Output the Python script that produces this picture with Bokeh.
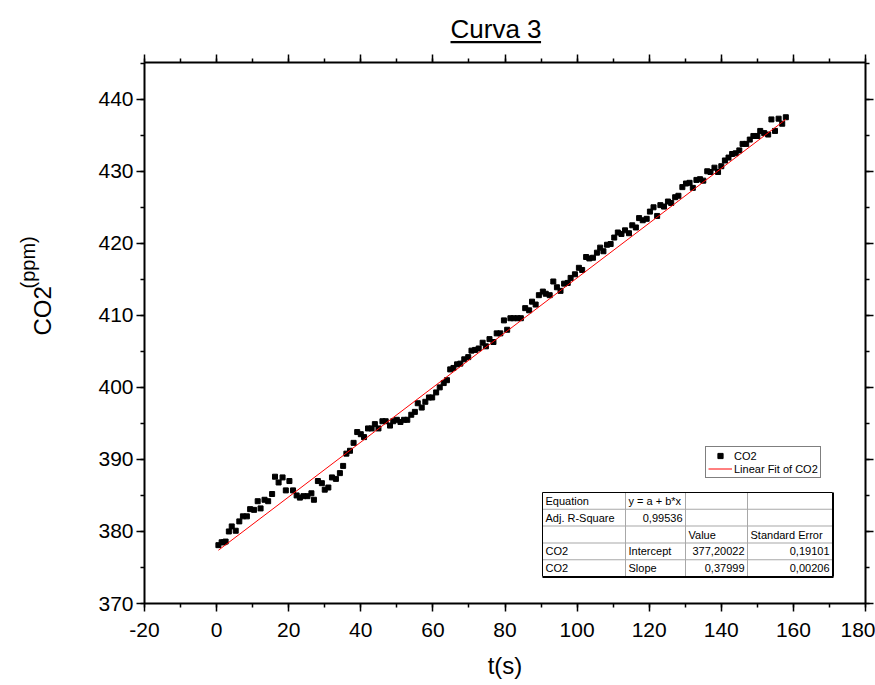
import math
from bokeh.plotting import figure
from bokeh.models import (Range1d, LinearAxis, SingleIntervalTicker, Label, BoxAnnotation,
                          Legend, LegendItem, CustomJSTickFormatter, Title)
from bokeh.embed import file_html
from bokeh.resources import INLINE

# ---------------- data ----------------
t_s = [0.5, 1.4, 2.0, 2.5, 3.4, 4.2, 5.3, 6.3, 7.3, 8.4,
       9.3, 10.4, 11.4, 12.2, 13.3, 14.3, 15.4, 16.2, 17.2, 18.3,
       19.2, 20.2, 21.2, 22.2, 23.1, 24.1, 25.2, 26.3, 27.0, 28.1,
       29.2, 30.0, 31.0, 32.0, 33.1, 34.2, 35.1, 36.0, 37.0, 38.0,
       39.0, 40.0, 40.9, 42.0, 43.0, 43.9, 44.9, 46.0, 46.9, 48.1,
       49.0, 50.0, 51.0, 52.0, 52.9, 54.0, 55.0, 55.8, 56.9, 57.9,
       58.9, 59.8, 60.9, 61.9, 63.0, 63.9, 64.8, 65.7, 66.7, 67.6,
       68.7, 69.8, 70.7, 71.7, 72.7, 73.8, 74.7, 75.7, 76.8, 77.7,
       78.7, 79.7, 80.6, 81.5, 82.4, 83.5, 84.4, 85.6, 86.7, 87.5,
       88.5, 89.4, 90.5, 91.3, 92.4, 93.4, 94.4, 95.4, 96.4, 97.4,
       98.2, 99.4, 100.5, 101.4, 102.5, 103.4, 104.4, 105.5, 106.4, 107.3,
       108.3, 109.3, 110.3, 111.3, 112.3, 113.3, 114.4, 115.3, 116.3, 117.2,
       118.2, 119.3, 120.2, 121.2, 122.2, 123.1, 124.1, 125.2, 126.1, 127.2,
       128.1, 129.2, 130.2, 131.2, 132.1, 133.1, 134.1, 135.0, 136.1, 137.0,
       138.1, 139.1, 140.0, 141.0, 142.0, 143.0, 144.0, 145.0, 145.9, 146.9,
       147.9, 148.9, 150.0, 150.8, 151.9, 153.0, 153.9, 154.9, 155.9, 156.9,
       157.9]

co2_ppm = [378.1, 378.5, 378.5, 378.6, 380.0, 380.7, 380.1, 381.4, 382.1, 382.1,
           383.1, 383.0, 384.2, 383.2, 384.4, 384.2, 385.2, 387.6, 386.8, 387.5,
           385.7, 387.0, 385.7, 385.0, 384.7, 384.9, 384.9, 385.3, 384.4, 387.0,
           386.7, 385.8, 386.1, 387.5, 387.3, 388.1, 389.1, 390.8, 391.2, 392.3,
           393.8, 393.5, 393.1, 394.3, 394.3, 394.9, 394.3, 395.3, 395.3, 394.7,
           395.3, 395.5, 395.2, 395.5, 395.5, 396.2, 396.6, 397.8, 397.2, 398.0,
           398.6, 398.6, 399.3, 400.0, 400.6, 401.0, 402.5, 402.7, 403.2, 403.3,
           403.9, 404.2, 405.1, 405.2, 405.4, 406.2, 405.7, 406.7, 406.3, 407.5,
           407.5, 409.3, 408.0, 409.6, 409.6, 409.6, 409.6, 411.0, 410.7, 411.9,
           411.5, 412.8, 413.3, 413.0, 412.8, 414.7, 413.9, 413.4, 414.4, 414.5,
           415.2, 415.7, 416.6, 416.3, 418.1, 417.9, 418.0, 418.7, 419.4, 418.9,
           419.8, 419.9, 420.8, 421.5, 421.3, 421.8, 421.4, 422.5, 422.2, 423.5,
           423.2, 423.4, 424.4, 425.0, 423.8, 425.3, 425.1, 425.8, 425.6, 426.4,
           426.6, 427.8, 428.3, 428.4, 427.7, 428.8, 428.9, 428.7, 430.0, 429.9,
           430.5, 429.9, 430.7, 431.5, 431.9, 432.4, 432.5, 432.9, 433.8, 433.8,
           434.4, 434.9, 434.9, 435.6, 435.3, 435.1, 437.2, 435.6, 437.3, 436.6,
           437.5]

fit_intercept = 377.20022
fit_slope = 0.37999

series_names = ["CO2", "Linear Fit of CO2"]

table_col1 = ["Equation", "Adj. R-Square", "", "CO2", "CO2"]
table_col2 = ["y = a + b*x", "0,99536", "", "Intercept", "Slope"]
table_col3 = ["", "", "Value", "377,20022", "0,37999"]
table_col4 = ["", "", "Standard Error", "0,19101", "0,00206"]
table_align = [["left", "left", "left", "left"],
               ["left", "right", "left", "left"],
               ["left", "left", "left", "left"],
               ["left", "left", "right", "right"],
               ["left", "left", "right", "right"]]

x_tick_labels = {-20: "-20"}
title_text = "Curva 3"
x_label = "t(s)"
y_label_main = "CO2"
y_label_unit = "(ppm)"

FONT = "Liberation Sans"

# ---------------- figure ----------------
p = figure(width=875, height=685, output_backend="svg", toolbar_location=None,
           x_range=Range1d(-20, 180), y_range=Range1d(370, 445.1),
           min_border_left=144, min_border_right=10, min_border_top=62, min_border_bottom=82,
           background_fill_color="white", border_fill_color="white")
p.grid.visible = False
p.outline_line_color = None


def style_axis(ax, show_labels):
    ax.axis_line_width = 2
    ax.axis_line_color = "black"
    ax.major_tick_out = 8
    ax.major_tick_in = 0
    ax.minor_tick_out = 4
    ax.minor_tick_in = 0
    ax.major_tick_line_width = 1.5
    ax.minor_tick_line_width = 1.5
    ax.major_tick_line_color = "black"
    ax.minor_tick_line_color = "black"
    if show_labels:
        ax.major_label_text_font = FONT
        ax.major_label_text_font_size = "21px"
        ax.major_label_text_color = "black"
    else:
        ax.formatter = CustomJSTickFormatter(code="return ''")
        ax.major_label_standoff = 0


p.xaxis.ticker = SingleIntervalTicker(interval=20, num_minor_ticks=2)
p.yaxis.ticker = SingleIntervalTicker(interval=10, num_minor_ticks=2)
style_axis(p.xaxis[0], True)
style_axis(p.yaxis[0], True)
p.xaxis.major_label_overrides = x_tick_labels
p.xaxis.major_label_standoff = 11
p.yaxis.major_label_standoff = 3
p.xaxis.axis_label = x_label
p.xaxis.axis_label_text_font = FONT
p.xaxis.axis_label_text_font_size = "24px"
p.xaxis.axis_label_text_font_style = "normal"
p.xaxis.axis_label_text_color = "black"
p.xaxis.axis_label_standoff = 12

top_ax = LinearAxis(ticker=SingleIntervalTicker(interval=20, num_minor_ticks=2))
right_ax = LinearAxis(ticker=SingleIntervalTicker(interval=10, num_minor_ticks=2))
style_axis(top_ax, False)
style_axis(right_ax, False)
p.add_layout(top_ax, "above")
p.add_layout(right_ax, "right")

# underline of the title: thin black bar = padded background of a blank side title
underline = Title(text=" ", align="left", offset=306, standoff=19, vertical_align="top",
                  text_font=FONT, text_font_size="2px", text_color="black",
                  background_fill_color="black", padding=(45, 45, 0, 0))
p.add_layout(underline, "above")

# title
p.title.text = title_text
p.title.align = "left"
p.title.offset = 306
p.title.text_font = FONT
p.title.text_font_size = "26px"
p.title.text_font_style = "normal"
p.title.text_color = "black"
p.title.standoff = -25

# y-axis label: spacer, "CO2", and raised "(ppm)" as side titles
spacer = Title(text=" ", standoff=35, text_font=FONT, text_font_size="1px", text_color="white")
t_co2 = Title(text=y_label_main, align="left", offset=268, standoff=0, vertical_align="top",
              text_font=FONT, text_font_size="24px", text_font_style="normal", text_color="black")
t_ppm = Title(text=y_label_unit, align="left", offset=315, standoff=-23, vertical_align="middle",
              text_font=FONT, text_font_size="20px", text_font_style="normal", text_color="black")
p.add_layout(spacer, "left")
p.add_layout(t_co2, "left")
p.add_layout(t_ppm, "left")

# ---------------- glyphs ----------------
sc = p.scatter(t_s, co2_ppm, marker="square", size=5, color="black")
t0, t1 = min(t_s), max(t_s)
ln = p.line([t0, t1], [fit_intercept + fit_slope * t0, fit_intercept + fit_slope * t1],
            color="red", line_width=1)

legend = Legend(items=[LegendItem(label=series_names[0], renderers=[sc]),
                       LegendItem(label=series_names[1], renderers=[ln])],
                location=(561, 125), orientation="vertical",
                label_text_font=FONT, label_text_font_size="11px", label_text_color="black",
                label_standoff=2, label_height=12, glyph_height=13, glyph_width=24,
                spacing=0, padding=2, margin=0,
                border_line_color="black", border_line_width=1,
                background_fill_color="white", background_fill_alpha=1)
p.add_layout(legend)

# ---------------- fit table (canvas units, inside the frame) ----------------
CU = dict(left_units="canvas", right_units="canvas", top_units="canvas", bottom_units="canvas")


def bar(x0, x1, y0, y1, color):
    p.add_layout(BoxAnnotation(left=x0, right=x1, top=y0, bottom=y1, fill_color=color,
                               fill_alpha=1, line_color=None, **CU))


def label(x, y, text, size, align="left", baseline="middle"):
    p.add_layout(Label(x=x, y=y, x_units="canvas", y_units="canvas", text=text,
                       text_font=FONT, text_font_size=size, text_color="black",
                       text_align=align, text_baseline=baseline))


cols_x = [542, 625, 685, 747, 832]
row_top = 492
row_h = 16.8
n_rows = len(table_col1)
table_bottom = row_top + row_h * n_rows
for i in range(1, n_rows):
    y = row_top + row_h * i
    bar(cols_x[0], cols_x[-1], y - 0.5, y + 0.5, "#a8a8a8")
for j in range(1, len(cols_x) - 1):
    bar(cols_x[j] - 0.5, cols_x[j] + 0.5, row_top, table_bottom, "#a8a8a8")
bar(cols_x[0], cols_x[-1], row_top - 0.5, row_top + 0.5, "black")
bar(cols_x[0], cols_x[-1] + 1, table_bottom - 0.5, table_bottom + 1.5, "black")
bar(cols_x[0] - 0.5, cols_x[0] + 0.5, row_top, table_bottom, "black")
bar(cols_x[-1] - 0.5, cols_x[-1] + 1.5, row_top, table_bottom, "black")

cols = [table_col1, table_col2, table_col3, table_col4]
for i in range(n_rows):
    yc = row_top + row_h * (i + 0.5)
    for j, col in enumerate(cols):
        txt = col[i]
        if not txt:
            continue
        if table_align[i][j] == "right":
            label(cols_x[j + 1] - 3, yc, txt, "11px", align="right")
        else:
            label(cols_x[j] + 3, yc, txt, "11px", align="left")

open("out.html", "w").write(file_html(p, INLINE))
